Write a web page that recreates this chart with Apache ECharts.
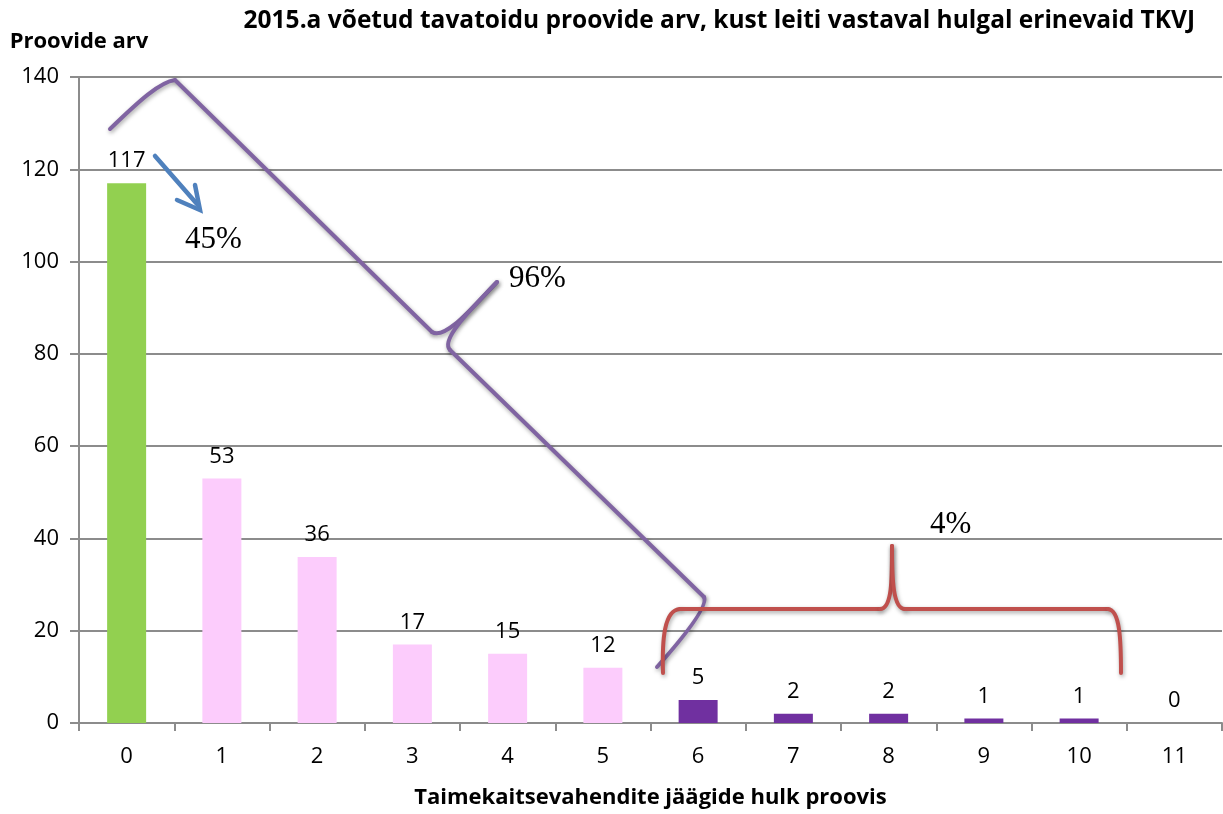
<!DOCTYPE html>
<html>
<head>
<meta charset="utf-8">
<script src="https://cdn.jsdelivr.net/npm/echarts@6/dist/echarts.min.js"></script>
<style>html,body{margin:0;padding:0;background:#fff}#c{width:1223px;height:814px}</style>
</head>
<body>
<div id="c"></div>
<script>
// ---- data ----
const titleText = '2015.a võetud tavatoidu proovide arv, kust leiti vastaval hulgal erinevaid TKVJ';
const yAxisName = 'Proovide arv';
const xAxisName = 'Taimekaitsevahendite jäägide hulk proovis';
const categories = ['0','1','2','3','4','5','6','7','8','9','10','11'];
const sampleCounts = [117, 53, 36, 17, 15, 12, 5, 2, 2, 1, 1, 0];
const annotationTexts = ['45%', '96%', '4%'];

// ---- styles ----
const GREEN = '#92D050', PINK = '#FCCCFC', PURPLE = '#7030A0';
const GRID_GRAY = '#8C8C8C';
const BRACE_PURPLE = '#8064A2', BRACE_RED = '#C0504D', ARROW_BLUE = '#4F81BD';
function colorFor(i){ return i === 0 ? GREEN : (i <= 5 ? PINK : PURPLE); }

const chart = echarts.init(document.getElementById('c'), null, {renderer:'canvas'});
const font = '"Open Sans", Lato, sans-serif';
const serif = '"Liberation Serif", "DejaVu Serif", serif';
const shadow = {shadowBlur:4, shadowColor:'rgba(0,0,0,0.35)', shadowOffsetX:1, shadowOffsetY:2};

function line(shape, color){ return {type:'line', shape, style:Object.assign({stroke:color, lineWidth:4, lineCap:'round'}, shadow), z:100}; }
function curve(shape, color){ return {type:'bezierCurve', shape, style:Object.assign({stroke:color, lineWidth:4, fill:null, lineCap:'round'}, shadow), z:100}; }
function pct(text, x, y){ return {type:'text', x, y, style:{text, font:'31px '+serif, fill:'#000', textVerticalAlign:'middle', verticalAlign:'middle'}, z:101}; }

const option = {
  animation:false,
  backgroundColor:'#fff',
  title:{text:titleText, right:23, top:4, textStyle:{fontFamily:font, fontWeight:'bold', fontSize:24.5, color:'#000'}},
  grid:{left:79, right:1, top:77, bottom:90, containLabel:false},
  xAxis:{
    type:'category', data:categories,
    name:xAxisName, nameLocation:'middle', nameGap:64,
    nameTextStyle:{fontFamily:font, fontWeight:'bold', fontSize:22, color:'#000'},
    axisLine:{lineStyle:{color:GRID_GRAY, width:2}},
    axisTick:{show:true, alignWithLabel:false, length:8, lineStyle:{color:GRID_GRAY, width:2}},
    axisLabel:{fontFamily:font, fontSize:22, color:'#000', margin:23}
  },
  yAxis:{
    type:'value', min:0, max:140, interval:20,
    name:yAxisName, nameLocation:'end', nameGap:24,
    nameTextStyle:{fontFamily:font, fontWeight:'bold', fontSize:22, color:'#000', align:'center'},
    axisLine:{show:true, lineStyle:{color:GRID_GRAY, width:2}},
    axisTick:{show:true, length:9, lineStyle:{color:GRID_GRAY, width:2}},
    axisLabel:{fontFamily:font, fontSize:22, color:'#000', margin:20},
    splitLine:{lineStyle:{color:GRID_GRAY, width:2}}
  },
  series:[{
    type:'bar', barWidth:39,
    data:sampleCounts.map((v,i)=>({value:v, itemStyle:{color:colorFor(i)}})),
    label:{show:true, position:'top', distance:11, fontFamily:font, fontSize:22, color:'#000'}
  }],
  graphic:[
    // purple brace (96%)
    curve({x1:110,y1:129, cpx1:140,cpy1:100, cpx2:160,cpy2:82, x2:175,y2:80}, BRACE_PURPLE),
    line({x1:175,y1:80, x2:432,y2:332}, BRACE_PURPLE),
    curve({x1:432,y1:332, cpx1:445,cpy1:340, cpx2:470,cpy2:310, x2:497,y2:282}, BRACE_PURPLE),
    curve({x1:497,y1:282, cpx1:470,cpy1:310, cpx2:440,cpy2:340, x2:450,y2:350}, BRACE_PURPLE),
    line({x1:450,y1:350, x2:704,y2:597}, BRACE_PURPLE),
    curve({x1:704,y1:597, cpx1:708,cpy1:605, cpx2:690,cpy2:630, x2:657,y2:667}, BRACE_PURPLE),
    // red brace (4%)
    curve({x1:663,y1:673, cpx1:662,cpy1:640, cpx2:664,cpy2:610, x2:680,y2:609}, BRACE_RED),
    line({x1:680,y1:609, x2:880,y2:609}, BRACE_RED),
    curve({x1:880,y1:609, cpx1:892,cpy1:609, cpx2:892,cpy2:580, x2:892,y2:546}, BRACE_RED),
    curve({x1:892,y1:546, cpx1:892,cpy1:580, cpx2:893,cpy2:609, x2:905,y2:609}, BRACE_RED),
    line({x1:905,y1:609, x2:1108,y2:609}, BRACE_RED),
    curve({x1:1108,y1:609, cpx1:1120,cpy1:610, cpx2:1121,cpy2:640, x2:1121,y2:673}, BRACE_RED),
    // blue arrow
    {type:'line', shape:{x1:155,y1:156, x2:197,y2:204}, style:{stroke:ARROW_BLUE, lineWidth:4.5, lineCap:'round'}, z:100},
    {type:'polyline', shape:{points:[[177,200],[200,210],[195,185]]}, style:{stroke:ARROW_BLUE, lineWidth:4.5, fill:null, lineCap:'round', lineJoin:'miter'}, z:100},
    // percentages
    pct(annotationTexts[0], 185, 240),
    pct(annotationTexts[1], 509, 279),
    pct(annotationTexts[2], 930, 525)
  ]
};
chart.setOption(option);
</script>
</body>
</html>
